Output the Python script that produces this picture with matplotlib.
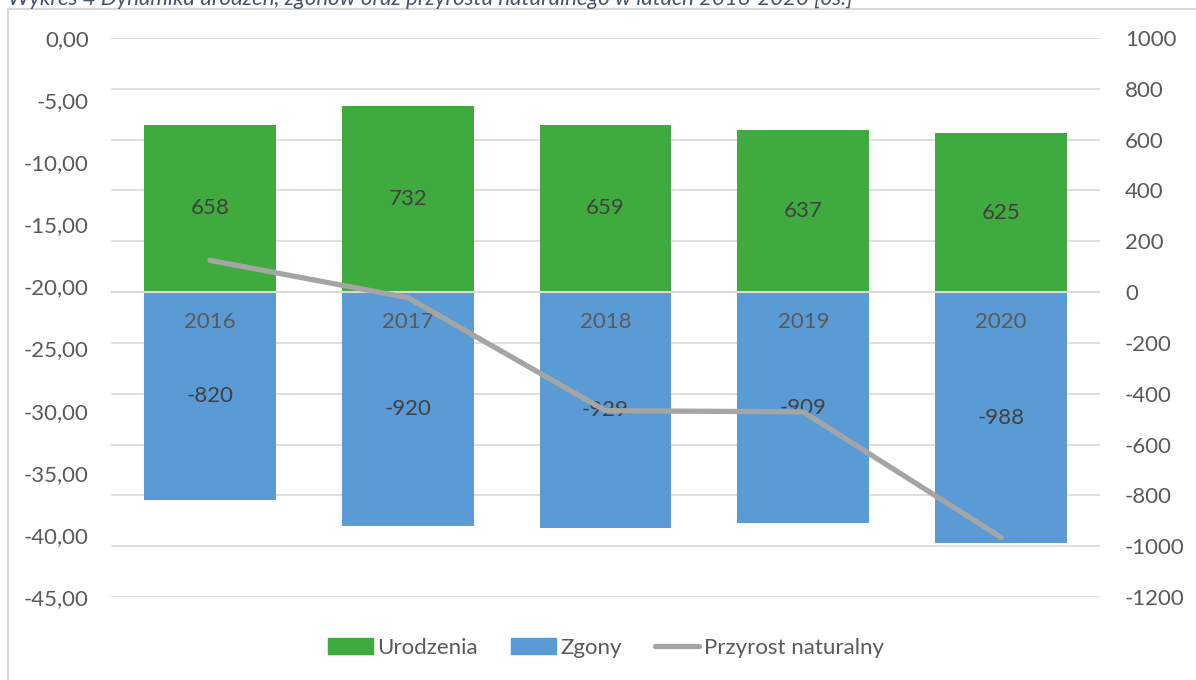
import numpy as np
import matplotlib.pyplot as plt
from matplotlib.patches import Rectangle, Patch
from matplotlib.lines import Line2D
import matplotlib.ticker as ticker

plt.rcParams['font.family'] = ['Lato', 'DejaVu Sans']
plt.rcParams['axes.unicode_minus'] = False

# dane
lata = ['2016', '2017', '2018', '2019', '2020']
urodzenia = [658, 732, 659, 637, 625]
zgony = [-820, -920, -929, -909, -988]
przyrost = [-17.9, -20.9, -30.0, -30.1, -40.2]

tekst = '#595959'
zielony = '#3FAB3F'
niebieski = '#5B9BD5'
szary = '#A5A5A5'
siatka = '#D9D9D9'

fig = plt.figure(figsize=(11.96, 6.8), dpi=100)

# ramka wykresu
fig.patches.append(Rectangle((8 / 1196, -0.05), 1.2, 1 - 9 / 680 + 0.05,
                             transform=fig.transFigure, fill=False,
                             edgecolor=siatka, linewidth=1.5))

fig.text(8 / 1196, 1 - 5 / 680,
         'Wykres 4 Dynamika urodzeń, zgonów oraz przyrostu naturalnego w latach 2016-2020 [os.]',
         fontsize=16, style='italic', color='#44546A', va='baseline', ha='left')

ax = fig.add_axes([111 / 1196, 1 - 597 / 680, (1100 - 111) / 1196, (597 - 38) / 680])
x = np.arange(len(lata))

ax.bar(x, urodzenia, width=0.667, color=zielony, zorder=2)
ax.bar(x, zgony, width=0.667, color=niebieski, zorder=2)
ax.axhline(0, color=siatka, linewidth=1.5, zorder=3)

for i in range(len(lata)):
    ax.text(x[i], urodzenia[i] / 2, str(urodzenia[i]), ha='center', va='center',
            fontsize=16, color='#404040', zorder=4)
    ax.text(x[i], zgony[i] / 2, str(zgony[i]), ha='center', va='center',
            fontsize=16, color='#404040', zorder=4)
    ax.text(x[i], -118, lata[i], ha='center', va='center',
            fontsize=16, color=tekst, zorder=4)

ax.set_xlim(-0.5, len(lata) - 0.5)
ax.set_ylim(-1200, 1000)
ax.set_yticks(np.arange(-1200, 1001, 200))
ax.set_xticks([])
ax.grid(axis='y', color=siatka, linewidth=1.2, zorder=0)
ax.set_axisbelow(True)
for s in ax.spines.values():
    s.set_visible(False)

ax2 = ax.twinx()
ax2.plot(x, przyrost, color=szary, linewidth=3.8, solid_capstyle='round', zorder=5)
ax2.set_ylim(-45, 0)
ax2.set_yticks(np.arange(-45, 0.1, 5))
ax2.yaxis.set_major_formatter(ticker.FuncFormatter(lambda v, p: f'{v:.2f}'.replace('.', ',').replace('-0,00', '0,00')))
for s in ax2.spines.values():
    s.set_visible(False)

# słupki po prawej, linia po lewej
ax.yaxis.tick_right()
ax2.yaxis.tick_left()
ax.tick_params(axis='y', length=0, pad=18, labelsize=16, labelcolor=tekst,
               left=False, labelleft=False, right=False, labelright=True)
ax2.tick_params(axis='y', length=0, pad=16, labelsize=16, labelcolor=tekst,
                left=False, labelleft=True, right=False, labelright=False)

uchwyty = [Patch(color=zielony, label='Urodzenia'),
           Patch(color=niebieski, label='Zgony'),
           Line2D([0], [0], color=szary, linewidth=3.8, solid_capstyle='round',
                  label='Przyrost naturalny')]
fig.legend(handles=uchwyty, loc='center', bbox_to_anchor=(606 / 1196, 1 - 648 / 680),
           ncol=3, frameon=False, fontsize=16, labelcolor=tekst,
           handlelength=2.0, handletextpad=0.2, columnspacing=1.5)

fig.savefig('out.png', dpi=100)
